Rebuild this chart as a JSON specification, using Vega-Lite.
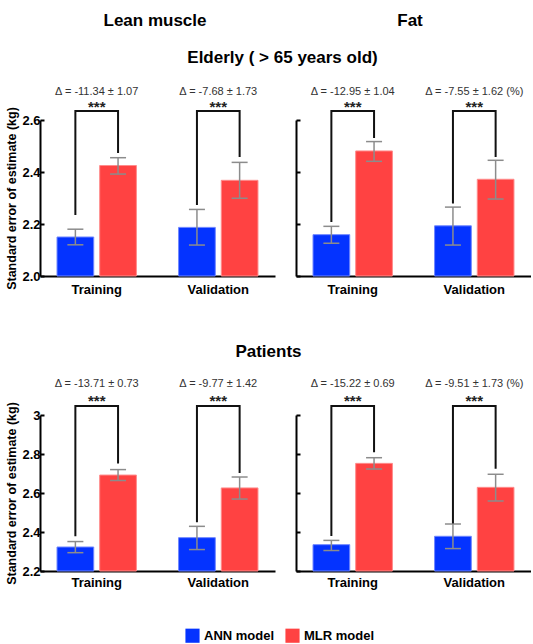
{
  "$schema": "https://vega.github.io/schema/vega-lite/v6.json",
  "padding": {"left": 5, "right": 0, "top": 10, "bottom": 5},
  "config": {
    "font": "Liberation Sans",
    "view": {"stroke": null},
    "axis": {"grid": false, "domainColor": "#000", "domainWidth": 2, "tickColor": "#000", "tickWidth": 2, "labelOverlap": false,
      "labelFont": "Liberation Sans", "labelFontWeight": "bold", "labelFontSize": 13, "labelColor": "#000",
      "titleFont": "Liberation Sans", "titleFontWeight": "bold", "titleFontSize": 12.5, "titleColor": "#000"},
    "title": {"font": "Liberation Sans", "fontSize": 17, "fontWeight": "bold", "color": "#000", "anchor": "middle"},
    "legend": {"labelFont": "Liberation Sans", "labelFontWeight": "bold", "labelFontSize": 13, "labelColor": "#000", "symbolType": "square", "symbolSize": 200, "symbolStrokeWidth": 0, "columnPadding": 10}
  },
  "datasets": {
    "headers": [{"t": "Lean muscle"}, {"t": "Fat"}],
    "bars": [
      {"panel": "EL", "group": "Training", "model": "ANN", "value": 2.15, "lo": 2.12, "hi": 2.18},
      {"panel": "EL", "group": "Training", "model": "MLR", "value": 2.425, "lo": 2.392, "hi": 2.455},
      {"panel": "EL", "group": "Validation", "model": "ANN", "value": 2.187, "lo": 2.119, "hi": 2.256},
      {"panel": "EL", "group": "Validation", "model": "MLR", "value": 2.368, "lo": 2.299, "hi": 2.437},
      {"panel": "EF", "group": "Training", "model": "ANN", "value": 2.159, "lo": 2.126, "hi": 2.191},
      {"panel": "EF", "group": "Training", "model": "MLR", "value": 2.481, "lo": 2.441, "hi": 2.517},
      {"panel": "EF", "group": "Validation", "model": "ANN", "value": 2.193, "lo": 2.119, "hi": 2.265},
      {"panel": "EF", "group": "Validation", "model": "MLR", "value": 2.372, "lo": 2.296, "hi": 2.445},
      {"panel": "PL", "group": "Training", "model": "ANN", "value": 2.323, "lo": 2.294, "hi": 2.351},
      {"panel": "PL", "group": "Training", "model": "MLR", "value": 2.692, "lo": 2.664, "hi": 2.72},
      {"panel": "PL", "group": "Validation", "model": "ANN", "value": 2.371, "lo": 2.31, "hi": 2.429},
      {"panel": "PL", "group": "Validation", "model": "MLR", "value": 2.626, "lo": 2.569, "hi": 2.682},
      {"panel": "PF", "group": "Training", "model": "ANN", "value": 2.335, "lo": 2.305, "hi": 2.357},
      {"panel": "PF", "group": "Training", "model": "MLR", "value": 2.752, "lo": 2.723, "hi": 2.781},
      {"panel": "PF", "group": "Validation", "model": "ANN", "value": 2.378, "lo": 2.315, "hi": 2.441},
      {"panel": "PF", "group": "Validation", "model": "MLR", "value": 2.629, "lo": 2.559, "hi": 2.696}
    ],
    "brackets": [
      {"panel": "EL", "group": "Training", "model": "ANN", "seq": 1, "yv": 2.235},
      {"panel": "EL", "group": "Training", "model": "ANN", "seq": 2, "yv": 2.635},
      {"panel": "EL", "group": "Training", "model": "MLR", "seq": 3, "yv": 2.635},
      {"panel": "EL", "group": "Training", "model": "MLR", "seq": 4, "yv": 2.473},
      {"panel": "EL", "group": "Validation", "model": "ANN", "seq": 1, "yv": 2.273},
      {"panel": "EL", "group": "Validation", "model": "ANN", "seq": 2, "yv": 2.635},
      {"panel": "EL", "group": "Validation", "model": "MLR", "seq": 3, "yv": 2.635},
      {"panel": "EL", "group": "Validation", "model": "MLR", "seq": 4, "yv": 2.458},
      {"panel": "EF", "group": "Training", "model": "ANN", "seq": 1, "yv": 2.208},
      {"panel": "EF", "group": "Training", "model": "ANN", "seq": 2, "yv": 2.635},
      {"panel": "EF", "group": "Training", "model": "MLR", "seq": 3, "yv": 2.635},
      {"panel": "EF", "group": "Training", "model": "MLR", "seq": 4, "yv": 2.531},
      {"panel": "EF", "group": "Validation", "model": "ANN", "seq": 1, "yv": 2.279},
      {"panel": "EF", "group": "Validation", "model": "ANN", "seq": 2, "yv": 2.635},
      {"panel": "EF", "group": "Validation", "model": "MLR", "seq": 3, "yv": 2.635},
      {"panel": "EF", "group": "Validation", "model": "MLR", "seq": 4, "yv": 2.458},
      {"panel": "PL", "group": "Training", "model": "ANN", "seq": 1, "yv": 2.378},
      {"panel": "PL", "group": "Training", "model": "ANN", "seq": 2, "yv": 3.046},
      {"panel": "PL", "group": "Training", "model": "MLR", "seq": 3, "yv": 3.046},
      {"panel": "PL", "group": "Training", "model": "MLR", "seq": 4, "yv": 2.751},
      {"panel": "PL", "group": "Validation", "model": "ANN", "seq": 1, "yv": 2.45},
      {"panel": "PL", "group": "Validation", "model": "ANN", "seq": 2, "yv": 3.046},
      {"panel": "PL", "group": "Validation", "model": "MLR", "seq": 3, "yv": 3.046},
      {"panel": "PL", "group": "Validation", "model": "MLR", "seq": 4, "yv": 2.703},
      {"panel": "PF", "group": "Training", "model": "ANN", "seq": 1, "yv": 2.379},
      {"panel": "PF", "group": "Training", "model": "ANN", "seq": 2, "yv": 3.046},
      {"panel": "PF", "group": "Training", "model": "MLR", "seq": 3, "yv": 3.046},
      {"panel": "PF", "group": "Training", "model": "MLR", "seq": 4, "yv": 2.809},
      {"panel": "PF", "group": "Validation", "model": "ANN", "seq": 1, "yv": 2.443},
      {"panel": "PF", "group": "Validation", "model": "ANN", "seq": 2, "yv": 3.046},
      {"panel": "PF", "group": "Validation", "model": "MLR", "seq": 3, "yv": 3.046},
      {"panel": "PF", "group": "Validation", "model": "MLR", "seq": 4, "yv": 2.725}
    ],
    "notes": [
      {"panel": "EL", "group": "Training", "delta": "Δ = -11.34 ± 1.07", "sig": "***"},
      {"panel": "EL", "group": "Validation", "delta": "Δ = -7.68 ± 1.73", "sig": "***"},
      {"panel": "EF", "group": "Training", "delta": "Δ = -12.95 ± 1.04", "sig": "***"},
      {"panel": "EF", "group": "Validation", "delta": "Δ = -7.55 ± 1.62 (%)", "sig": "***"},
      {"panel": "PL", "group": "Training", "delta": "Δ = -13.71 ± 0.73", "sig": "***"},
      {"panel": "PL", "group": "Validation", "delta": "Δ = -9.77 ± 1.42", "sig": "***"},
      {"panel": "PF", "group": "Training", "delta": "Δ = -15.22 ± 0.69", "sig": "***"},
      {"panel": "PF", "group": "Validation", "delta": "Δ = -9.51 ± 1.73 (%)", "sig": "***"}
    ]
  },
  "spacing": 46,
  "vconcat": [
    {
      "spacing": 19,
      "vconcat": [
        {
          "width": 485, "height": 22,
          "data": {"name": "headers"},
          "mark": {"type": "text", "fontSize": 17, "fontWeight": "bold", "color": "#000"},
          "encoding": {
            "x": {"field": "t", "type": "nominal", "sort": ["Lean muscle", "Fat"], "scale": {"type": "point", "padding": 0.451, "align": 0.5}, "axis": null},
            "text": {"field": "t"}
          },
          "title": {"text": "Elderly ( > 65 years old)", "orient": "bottom", "offset": 18}
        },
        {
          "spacing": 20,
          "hconcat": [
            {
              "width": 235, "height": 156,
              "layer": [
                {"data": {"name": "bars"}, "transform": [{"filter": "datum.panel === 'EL'"}],
                  "mark": {"type": "bar", "strokeWidth": 1},
                  "encoding": {
                    "x": {"field": "group", "type": "nominal", "sort": ["Training", "Validation"], "scale": {"paddingInner": 0.347, "paddingOuter": 0.14}, "axis": {"title": null, "ticks": false, "labelAngle": 0, "labelPadding": 7}},
                    "xOffset": {"field": "model", "type": "nominal", "sort": ["ANN", "MLR"], "scale": {"paddingInner": 0.14, "paddingOuter": 0}},
                    "y": {"field": "value", "type": "quantitative", "scale": {"domain": [2, 2.6], "nice": false, "zero": false}, "axis": {"title": "Standard error of estimate (kg)", "values": [2, 2.2, 2.4, 2.6], "tickCount": 10, "format": ".1f", "labelOverlap": false, "tickSize": -4, "labelPadding": 4, "titlePadding": 3}},
                    "y2": {"datum": 2},
                    "color": {"field": "model", "type": "nominal", "scale": {"domain": ["ANN", "MLR"], "range": ["#0433ff", "#ff4242"]}, "legend": {"title": null, "orient": "none", "legendX": 145, "legendY": 618, "direction": "horizontal", "labelExpr": "datum.label + ' model'"}},
                    "stroke": {"field": "model", "type": "nominal", "scale": {"domain": ["ANN", "MLR"], "range": ["#6f86ff", "#ff8c8c"]}, "legend": null}
                  }},
                {"data": {"name": "bars"}, "transform": [{"filter": "datum.panel === 'EL'"}],
                  "mark": {"type": "rule", "color": "#8c8c8c", "strokeWidth": 1.5},
                  "encoding": {"x": {"field": "group", "type": "nominal", "sort": ["Training", "Validation"]}, "xOffset": {"field": "model", "type": "nominal", "sort": ["ANN", "MLR"]}, "y": {"field": "lo", "type": "quantitative"}, "y2": {"field": "hi"}}},
                {"data": {"name": "bars"}, "transform": [{"filter": "datum.panel === 'EL'"}, {"fold": ["lo", "hi"], "as": ["k", "v"]}],
                  "mark": {"type": "tick", "orient": "horizontal", "size": 16, "thickness": 1.5, "color": "#8c8c8c", "opacity": 1},
                  "encoding": {"x": {"field": "group", "type": "nominal", "sort": ["Training", "Validation"]}, "xOffset": {"field": "model", "type": "nominal", "sort": ["ANN", "MLR"]}, "y": {"field": "v", "type": "quantitative"}}},
                {"data": {"name": "brackets"}, "transform": [{"filter": "datum.panel === 'EL'"}],
                  "mark": {"type": "line", "color": "#111", "strokeWidth": 2},
                  "encoding": {"x": {"field": "group", "type": "nominal", "sort": ["Training", "Validation"]}, "xOffset": {"field": "model", "type": "nominal", "sort": ["ANN", "MLR"]}, "y": {"field": "yv", "type": "quantitative"}, "detail": {"field": "group"}, "order": {"field": "seq"}}},
                {"data": {"name": "notes"}, "transform": [{"filter": "datum.panel === 'EL'"}],
                  "mark": {"type": "text", "fontSize": 11, "color": "#333"},
                  "encoding": {"x": {"field": "group", "type": "nominal", "sort": ["Training", "Validation"]}, "y": {"datum": 2.708}, "text": {"field": "delta"}}},
                {"data": {"name": "notes"}, "transform": [{"filter": "datum.panel === 'EL'"}],
                  "mark": {"type": "text", "fontSize": 15, "fontWeight": "bold", "color": "#222", "dy": 2},
                  "encoding": {"x": {"field": "group", "type": "nominal", "sort": ["Training", "Validation"]}, "y": {"datum": 2.658}, "text": {"field": "sig"}}}
              ]
            },
            {
              "width": 235, "height": 156,
              "layer": [
                {"data": {"name": "bars"}, "transform": [{"filter": "datum.panel === 'EF'"}],
                  "mark": {"type": "bar", "strokeWidth": 1},
                  "encoding": {
                    "x": {"field": "group", "type": "nominal", "sort": ["Training", "Validation"], "scale": {"paddingInner": 0.347, "paddingOuter": 0.14}, "axis": {"title": null, "ticks": false, "labelAngle": 0, "labelPadding": 7}},
                    "xOffset": {"field": "model", "type": "nominal", "sort": ["ANN", "MLR"], "scale": {"paddingInner": 0.14, "paddingOuter": 0}},
                    "y": {"field": "value", "type": "quantitative", "scale": {"domain": [2, 2.6], "nice": false, "zero": false}, "axis": {"title": null, "labels": false, "values": [2, 2.2, 2.4, 2.6], "tickCount": 10, "tickSize": -4}},
                    "y2": {"datum": 2},
                    "color": {"field": "model", "type": "nominal", "scale": {"domain": ["ANN", "MLR"], "range": ["#0433ff", "#ff4242"]}},
                    "stroke": {"field": "model", "type": "nominal", "scale": {"domain": ["ANN", "MLR"], "range": ["#6f86ff", "#ff8c8c"]}, "legend": null}
                  }},
                {"data": {"name": "bars"}, "transform": [{"filter": "datum.panel === 'EF'"}],
                  "mark": {"type": "rule", "color": "#8c8c8c", "strokeWidth": 1.5},
                  "encoding": {"x": {"field": "group", "type": "nominal", "sort": ["Training", "Validation"]}, "xOffset": {"field": "model", "type": "nominal", "sort": ["ANN", "MLR"]}, "y": {"field": "lo", "type": "quantitative"}, "y2": {"field": "hi"}}},
                {"data": {"name": "bars"}, "transform": [{"filter": "datum.panel === 'EF'"}, {"fold": ["lo", "hi"], "as": ["k", "v"]}],
                  "mark": {"type": "tick", "orient": "horizontal", "size": 16, "thickness": 1.5, "color": "#8c8c8c", "opacity": 1},
                  "encoding": {"x": {"field": "group", "type": "nominal", "sort": ["Training", "Validation"]}, "xOffset": {"field": "model", "type": "nominal", "sort": ["ANN", "MLR"]}, "y": {"field": "v", "type": "quantitative"}}},
                {"data": {"name": "brackets"}, "transform": [{"filter": "datum.panel === 'EF'"}],
                  "mark": {"type": "line", "color": "#111", "strokeWidth": 2},
                  "encoding": {"x": {"field": "group", "type": "nominal", "sort": ["Training", "Validation"]}, "xOffset": {"field": "model", "type": "nominal", "sort": ["ANN", "MLR"]}, "y": {"field": "yv", "type": "quantitative"}, "detail": {"field": "group"}, "order": {"field": "seq"}}},
                {"data": {"name": "notes"}, "transform": [{"filter": "datum.panel === 'EF'"}],
                  "mark": {"type": "text", "fontSize": 11, "color": "#333"},
                  "encoding": {"x": {"field": "group", "type": "nominal", "sort": ["Training", "Validation"]}, "y": {"datum": 2.708}, "text": {"field": "delta"}}},
                {"data": {"name": "notes"}, "transform": [{"filter": "datum.panel === 'EF'"}],
                  "mark": {"type": "text", "fontSize": 15, "fontWeight": "bold", "color": "#222", "dy": 2},
                  "encoding": {"x": {"field": "group", "type": "nominal", "sort": ["Training", "Validation"]}, "y": {"datum": 2.658}, "text": {"field": "sig"}}}
              ]
            }
          ]
        }
      ]
    },
    {
      "spacing": 20,
      "title": {"text": "Patients", "offset": 17},
      "hconcat": [
        {
          "width": 235, "height": 156,
          "layer": [
            {"data": {"name": "bars"}, "transform": [{"filter": "datum.panel === 'PL'"}],
              "mark": {"type": "bar", "strokeWidth": 1},
              "encoding": {
                "x": {"field": "group", "type": "nominal", "sort": ["Training", "Validation"], "scale": {"paddingInner": 0.347, "paddingOuter": 0.14}, "axis": {"title": null, "ticks": false, "labelAngle": 0, "labelPadding": 5}},
                "xOffset": {"field": "model", "type": "nominal", "sort": ["ANN", "MLR"], "scale": {"paddingInner": 0.14, "paddingOuter": 0}},
                "y": {"field": "value", "type": "quantitative", "scale": {"domain": [2.2, 3.0], "nice": false, "zero": false}, "axis": {"title": "Standard error of estimate (kg)", "values": [2.2, 2.4, 2.6, 2.8, 3.0], "tickCount": 10, "format": ".1~f", "labelOverlap": false, "tickSize": -4, "labelPadding": 4, "titlePadding": 3}},
                "y2": {"datum": 2.2},
                "color": {"field": "model", "type": "nominal", "scale": {"domain": ["ANN", "MLR"], "range": ["#0433ff", "#ff4242"]}},
                "stroke": {"field": "model", "type": "nominal", "scale": {"domain": ["ANN", "MLR"], "range": ["#6f86ff", "#ff8c8c"]}, "legend": null}
              }},
            {"data": {"name": "bars"}, "transform": [{"filter": "datum.panel === 'PL'"}],
              "mark": {"type": "rule", "color": "#8c8c8c", "strokeWidth": 1.5},
              "encoding": {"x": {"field": "group", "type": "nominal", "sort": ["Training", "Validation"]}, "xOffset": {"field": "model", "type": "nominal", "sort": ["ANN", "MLR"]}, "y": {"field": "lo", "type": "quantitative"}, "y2": {"field": "hi"}}},
            {"data": {"name": "bars"}, "transform": [{"filter": "datum.panel === 'PL'"}, {"fold": ["lo", "hi"], "as": ["k", "v"]}],
              "mark": {"type": "tick", "orient": "horizontal", "size": 16, "thickness": 1.5, "color": "#8c8c8c", "opacity": 1},
              "encoding": {"x": {"field": "group", "type": "nominal", "sort": ["Training", "Validation"]}, "xOffset": {"field": "model", "type": "nominal", "sort": ["ANN", "MLR"]}, "y": {"field": "v", "type": "quantitative"}}},
            {"data": {"name": "brackets"}, "transform": [{"filter": "datum.panel === 'PL'"}],
              "mark": {"type": "line", "color": "#111", "strokeWidth": 2},
              "encoding": {"x": {"field": "group", "type": "nominal", "sort": ["Training", "Validation"]}, "xOffset": {"field": "model", "type": "nominal", "sort": ["ANN", "MLR"]}, "y": {"field": "yv", "type": "quantitative"}, "detail": {"field": "group"}, "order": {"field": "seq"}}},
            {"data": {"name": "notes"}, "transform": [{"filter": "datum.panel === 'PL'"}],
              "mark": {"type": "text", "fontSize": 11, "color": "#333"},
              "encoding": {"x": {"field": "group", "type": "nominal", "sort": ["Training", "Validation"]}, "y": {"datum": 3.159}, "text": {"field": "delta"}}},
            {"data": {"name": "notes"}, "transform": [{"filter": "datum.panel === 'PL'"}],
              "mark": {"type": "text", "fontSize": 15, "fontWeight": "bold", "color": "#222", "dy": 2},
              "encoding": {"x": {"field": "group", "type": "nominal", "sort": ["Training", "Validation"]}, "y": {"datum": 3.082}, "text": {"field": "sig"}}}
          ]
        },
        {
          "width": 235, "height": 156,
          "layer": [
            {"data": {"name": "bars"}, "transform": [{"filter": "datum.panel === 'PF'"}],
              "mark": {"type": "bar", "strokeWidth": 1},
              "encoding": {
                "x": {"field": "group", "type": "nominal", "sort": ["Training", "Validation"], "scale": {"paddingInner": 0.347, "paddingOuter": 0.14}, "axis": {"title": null, "ticks": false, "labelAngle": 0, "labelPadding": 5}},
                "xOffset": {"field": "model", "type": "nominal", "sort": ["ANN", "MLR"], "scale": {"paddingInner": 0.14, "paddingOuter": 0}},
                "y": {"field": "value", "type": "quantitative", "scale": {"domain": [2.2, 3.0], "nice": false, "zero": false}, "axis": {"title": null, "labels": false, "values": [2.2, 2.4, 2.6, 2.8, 3.0], "tickCount": 10, "tickSize": -4}},
                "y2": {"datum": 2.2},
                "color": {"field": "model", "type": "nominal", "scale": {"domain": ["ANN", "MLR"], "range": ["#0433ff", "#ff4242"]}},
                "stroke": {"field": "model", "type": "nominal", "scale": {"domain": ["ANN", "MLR"], "range": ["#6f86ff", "#ff8c8c"]}, "legend": null}
              }},
            {"data": {"name": "bars"}, "transform": [{"filter": "datum.panel === 'PF'"}],
              "mark": {"type": "rule", "color": "#8c8c8c", "strokeWidth": 1.5},
              "encoding": {"x": {"field": "group", "type": "nominal", "sort": ["Training", "Validation"]}, "xOffset": {"field": "model", "type": "nominal", "sort": ["ANN", "MLR"]}, "y": {"field": "lo", "type": "quantitative"}, "y2": {"field": "hi"}}},
            {"data": {"name": "bars"}, "transform": [{"filter": "datum.panel === 'PF'"}, {"fold": ["lo", "hi"], "as": ["k", "v"]}],
              "mark": {"type": "tick", "orient": "horizontal", "size": 16, "thickness": 1.5, "color": "#8c8c8c", "opacity": 1},
              "encoding": {"x": {"field": "group", "type": "nominal", "sort": ["Training", "Validation"]}, "xOffset": {"field": "model", "type": "nominal", "sort": ["ANN", "MLR"]}, "y": {"field": "v", "type": "quantitative"}}},
            {"data": {"name": "brackets"}, "transform": [{"filter": "datum.panel === 'PF'"}],
              "mark": {"type": "line", "color": "#111", "strokeWidth": 2},
              "encoding": {"x": {"field": "group", "type": "nominal", "sort": ["Training", "Validation"]}, "xOffset": {"field": "model", "type": "nominal", "sort": ["ANN", "MLR"]}, "y": {"field": "yv", "type": "quantitative"}, "detail": {"field": "group"}, "order": {"field": "seq"}}},
            {"data": {"name": "notes"}, "transform": [{"filter": "datum.panel === 'PF'"}],
              "mark": {"type": "text", "fontSize": 11, "color": "#333"},
              "encoding": {"x": {"field": "group", "type": "nominal", "sort": ["Training", "Validation"]}, "y": {"datum": 3.159}, "text": {"field": "delta"}}},
            {"data": {"name": "notes"}, "transform": [{"filter": "datum.panel === 'PF'"}],
              "mark": {"type": "text", "fontSize": 15, "fontWeight": "bold", "color": "#222", "dy": 2},
              "encoding": {"x": {"field": "group", "type": "nominal", "sort": ["Training", "Validation"]}, "y": {"datum": 3.082}, "text": {"field": "sig"}}}
          ]
        }
      ]
    }
  ]
}
